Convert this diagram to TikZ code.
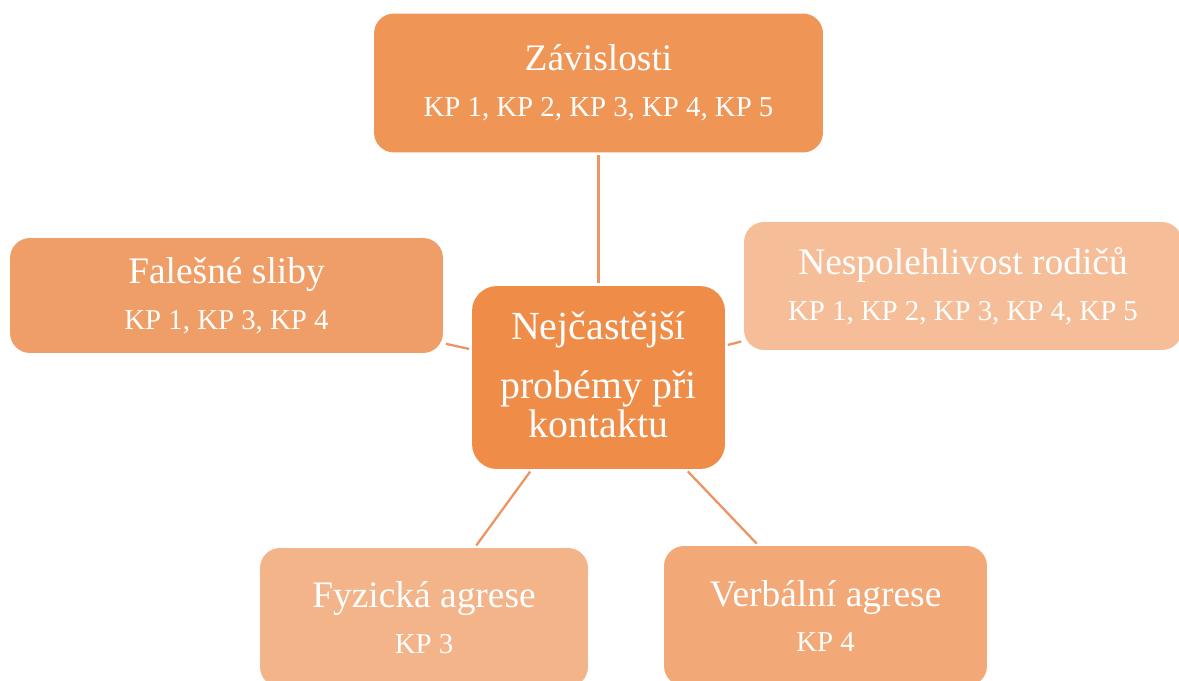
\documentclass[tikz,border=0pt]{standalone}
\usepackage{fontspec}
\setmainfont{Liberation Serif}
\usepackage{xcolor}

\definecolor{hub}{HTML}{EE8C48}
\definecolor{top}{HTML}{EF9656}
\definecolor{lft}{HTML}{F09E67}
\definecolor{rgt}{HTML}{F5BE98}
\definecolor{blft}{HTML}{F4B48A}
\definecolor{brgt}{HTML}{F2A877}
\definecolor{link}{HTML}{EE9462}

\newcommand{\kpfont}{\fontsize{16.4}{26}\selectfont}

\begin{document}
\begin{tikzpicture}[x=0.02cm,y=-0.02cm,-,shorten >=1pt,shorten <=1pt,line width=1.3pt,
    main node/.style={rounded corners=0.4cm,inner sep=0pt,align=center,text=white,
        font=\fontsize{21.3}{26}\selectfont},
    hub node/.style={rounded corners=0.5cm,inner sep=0pt},
    hub text/.style={inner sep=0pt,anchor=base,text=white,font=\fontsize{22.7}{27}\selectfont}]

            \useasboundingbox[fill=white] (0,0) rectangle (1179,680);

            \node[hub node, fill=hub, minimum width=5.06cm, minimum height=3.66cm] (0) at (598.5,377.5) {};
            \node[hub text] (0a) at (598.5,339) {Nejčastější};
            \node[hub text] (0b) at (598.5,398) {probémy při};
            \node[hub text] (0c) at (598.5,437) {kontaktu};

            \node[main node, fill=top, minimum width=8.98cm, minimum height=2.78cm] (1) at (598.5,83)
                {Závislosti\\{\kpfont KP 1, KP 2, KP 3, KP 4, KP 5}};
            \node[main node, fill=lft, minimum width=8.66cm, minimum height=2.3cm] (2) at (226.5,295.5)
                {Falešné sliby\\{\kpfont KP 1, KP 3, KP 4}};
            \node[main node, fill=rgt, minimum width=8.76cm, minimum height=2.56cm] (3) at (963,286)
                {Nespolehlivost rodičů\\{\kpfont KP 1, KP 2, KP 3, KP 4, KP 5}};
            \node[main node, fill=blft, minimum width=6.56cm, minimum height=2.78cm] (4) at (424,617.5)
                {Fyzická agrese\\{\kpfont KP 3}};
            \node[main node, fill=brgt, minimum width=6.46cm, minimum height=2.8cm] (5) at (825.5,616)
                {Verbální agrese\\{\kpfont KP 4}};

            \draw[-, link] (0) to (1);
            \draw[-, link] (0) to (2);
            \draw[-, link] (0) to (3);
            \draw[-, link] (0) to (4);
            \draw[-, link] (0) to (5);

        \end{tikzpicture}
\end{document}
